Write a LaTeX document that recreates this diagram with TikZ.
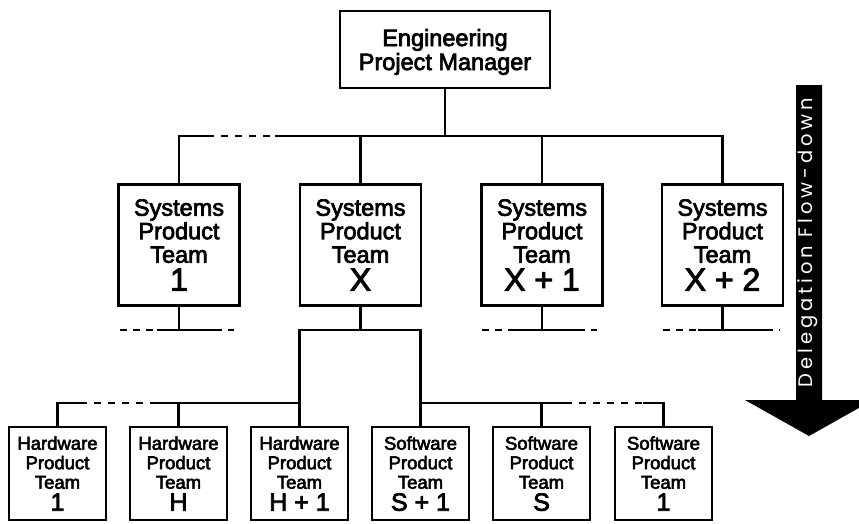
\documentclass[tikz,border=0pt]{standalone}
\usepackage{fontspec}
\setmainfont[FakeBold=3]{Liberation Sans}
\newfontfamily\arrowfont[LetterSpace=20]{Poppins}

\begin{document}
\begin{tikzpicture}[x=1pt,y=-1pt,line width=2.3pt,
  boxbase/.style={draw,line width=2.3pt,inner sep=0pt,align=center,text depth=0pt},
  topbox/.style={boxbase,minimum width=210pt,minimum height=77pt,
    font=\fontsize{23.5}{24}\selectfont},
  sysbox/.style={boxbase,minimum width=121pt,minimum height=121pt,
    font=\fontsize{23.5}{23.5}\selectfont},
  teambox/.style={boxbase,minimum width=97pt,minimum height=93pt,
    font=\fontsize{18.5}{19.5}\selectfont},
  dashpart/.style={dash pattern=on 7pt off 7pt},
  stubdash/.style={dash pattern=on 7pt off 6pt},
  flowarrow/.style={fill=black,draw=none}]
\newcommand\sysnum[1]{\\[4.5pt]{\fontsize{32}{32}\selectfont #1}}
\newcommand\teamnum[1]{\\[2.5pt]{\fontsize{25}{25}\selectfont #1}}

\useasboundingbox (0,0) rectangle (859,523);

% manager
\node[topbox] (mgr) at (445,49.5) {Engineering\\Project Manager};

% systems product teams
\node[sysbox] (s1) at (179,245)   {Systems\\Product\\Team\sysnum{1}};
\node[sysbox] (s2) at (360.5,245) {Systems\\Product\\Team\sysnum{X}};
\node[sysbox] (s3) at (542,245)   {Systems\\Product\\Team\sysnum{X + 1}};
\node[sysbox] (s4) at (722.5,245) {Systems\\Product\\Team\sysnum{X + 2}};

% hardware and software product teams
\node[teambox] (h1) at (57.5,473.5)  {Hardware\\Product\\Team\teamnum{1}};
\node[teambox] (h2) at (178.5,473.5) {Hardware\\Product\\Team\teamnum{H}};
\node[teambox] (h3) at (299.5,473.5) {Hardware\\Product\\Team\teamnum{H + 1}};
\node[teambox] (t4) at (420.5,473.5) {Software\\Product\\Team\teamnum{S + 1}};
\node[teambox] (t5) at (541.5,473.5) {Software\\Product\\Team\teamnum{S}};
\node[teambox] (t6) at (663.5,473.5) {Software\\Product\\Team\teamnum{1}};

% bus levels
\coordinate (topbus) at (0,136);
\coordinate (midbus) at (0,330);
\coordinate (lowbus) at (0,403);

% manager to systems teams
\coordinate (tb1) at (207,136);
\coordinate (tb2) at (275,136);
\draw (s1.north) |- (tb1);
\draw[dashpart] (tb1) -- (tb2);
\draw (tb2) -| (s4.north);
\draw (mgr.south) -- (mgr.south |- topbus);
\draw (s2.north) -- (s2.north |- topbus);
\draw (s3.north) -- (s3.north |- topbus);

% open-ended stubs below the systems teams
\foreach \s/\a/\b/\c/\d in {s1/-59/-22/36/55, s3/-60/-30/36/55, s4/-60/-25/43/57}{
  \coordinate (j) at (\s.south |- midbus);
  \draw (\s.south) -- (j);
  \draw ([xshift=\b pt]j) -- ([xshift=\c pt]j);
  \draw[stubdash] ([xshift=\a pt]j) -- ([xshift=\b pt]j);
  \draw[stubdash] ([xshift=\c pt]j) -- ([xshift=\d pt]j);
}

% system team X to its product teams
\draw (s2.south) -- (s2.south |- midbus);
\draw (h3.north) -- (h3.north |- midbus) -- (t4.north |- midbus) -- (t4.north);
\coordinate (lb1) at (80,403);
\coordinate (lb2) at (155,403);
\coordinate (rb1) at (565,403);
\coordinate (rb2) at (643,403);
\draw (h1.north) |- (lb1);
\draw[dashpart] (lb1) -- (lb2);
\draw (lb2) -- (h3.north |- lowbus);
\draw (h2.north) -- (h2.north |- lowbus);
\draw (t4.north |- lowbus) -- (rb1);
\draw[dashpart] (rb1) -- (rb2);
\draw (rb2) -| (t6.north);
\draw (t5.north) -- (t5.north |- lowbus);

% delegation arrow
\begin{scope}
  \clip (0,0) rectangle (859,523);
  \fill[flowarrow] (796,85) -- (822,85) -- (822,400) -- (873,400)
    -- (809,436) -- (745,400) -- (796,400) -- cycle;
\end{scope}
\node[rotate=90,text=white,inner sep=0pt,font=\arrowfont\fontsize{19.5}{19.5}\selectfont]
  (flow) at (808,242.5) {Delegation Flow-down};
\end{tikzpicture}
\end{document}
